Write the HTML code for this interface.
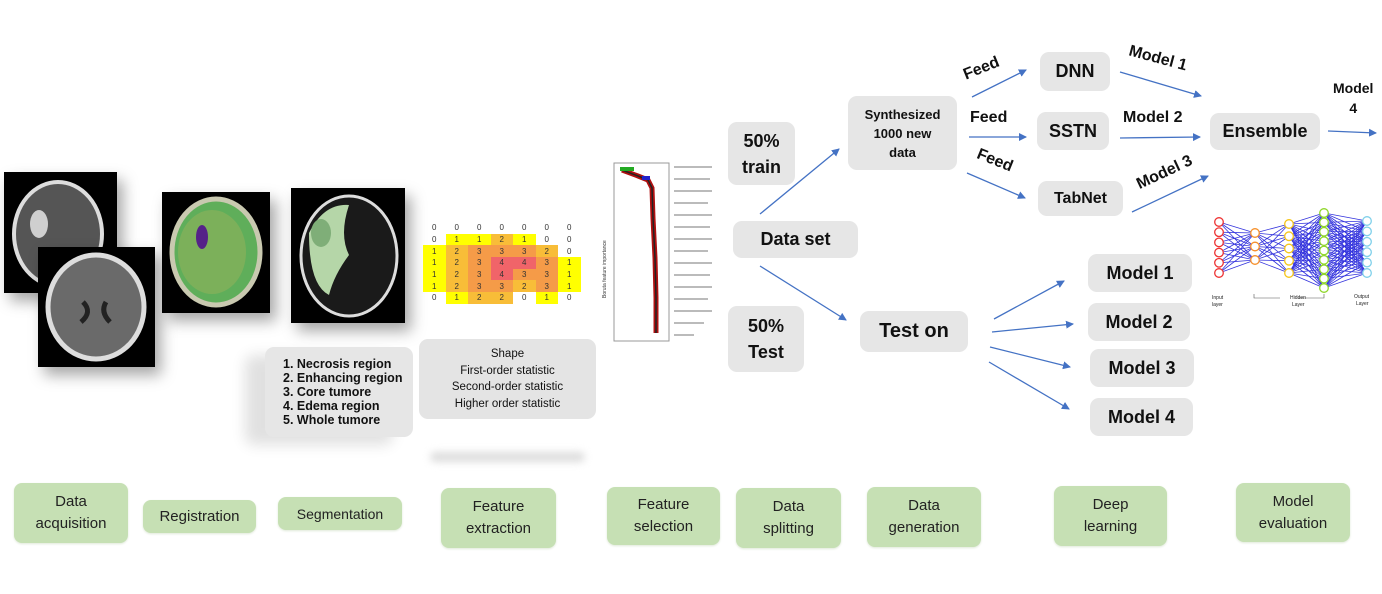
<!DOCTYPE html>
<html><head><meta charset="utf-8"><style>
body{margin:0;width:1382px;height:594px;background:#fff;position:relative;overflow:hidden;font-family:"Liberation Sans",sans-serif}
.a{position:absolute}
.g{position:absolute;background:#e6e6e6;border-radius:9px;display:flex;align-items:center;justify-content:center;text-align:center;font-weight:bold;color:#111}
.gr{position:absolute;background:#c6e0b4;border-radius:8px;display:flex;align-items:center;justify-content:center;text-align:center;color:#222;font-size:15px;line-height:22px;box-shadow:0 1px 2px #dfe8d8}
.lb{position:absolute;font-weight:bold;font-size:16px;color:#111;white-space:nowrap}
.img{position:absolute;background:#000;box-shadow:6px 8px 14px rgba(0,0,0,.35)}
table{border-collapse:collapse;position:absolute;left:423px;top:222px}
td{width:22.5px;height:11.7px;padding:0;font-size:8px;text-align:center;color:#333}
.Y{background:#ffff00}.O{background:#f8bd38}.T{background:#f59b48}.R{background:#f06469}
</style></head><body>

<div class="img" style="left:4px;top:172px;width:113px;height:121px">
<svg width="113" height="121"><ellipse cx="54" cy="62" rx="44" ry="52" fill="#555" stroke="#ddd" stroke-width="4"/><ellipse cx="35" cy="52" rx="9" ry="14" fill="#eee" opacity=".8"/></svg></div>
<div class="img" style="left:38px;top:247px;width:117px;height:120px">
<svg width="117" height="120"><ellipse cx="58" cy="60" rx="48" ry="52" fill="#6a6a6a" stroke="#ddd" stroke-width="5"/><path d="M45 55 q10 10 -2 20 M68 55 q-6 10 4 20" stroke="#222" stroke-width="5" fill="none"/></svg></div>
<div class="img" style="left:162px;top:192px;width:108px;height:121px">
<svg width="108" height="121"><ellipse cx="54" cy="60" rx="44" ry="53" fill="#5fae5a" stroke="#c9c9b0" stroke-width="5"/><ellipse cx="50" cy="60" rx="34" ry="42" fill="#8fb05a" opacity=".6"/><ellipse cx="40" cy="45" rx="6" ry="12" fill="#552288"/></svg></div>
<div class="img" style="left:291px;top:188px;width:114px;height:135px">
<svg width="114" height="135"><ellipse cx="58" cy="68" rx="48" ry="60" fill="#1a1a1a" stroke="#ddd" stroke-width="3"/><path d="M18 45 q15-30 40-28 q-10 30 0 50 q-15 20 -20 40 q-20-10-20-62z" fill="#b5d6a8"/><ellipse cx="30" cy="45" rx="10" ry="14" fill="#7fae78"/></svg></div>

<table>
<tr><td>0</td><td>0</td><td>0</td><td>0</td><td>0</td><td>0</td><td>0</td></tr>
<tr><td>0</td><td class="Y">1</td><td class="Y">1</td><td class="O">2</td><td class="Y">1</td><td>0</td><td>0</td></tr>
<tr><td class="Y">1</td><td class="O">2</td><td class="T">3</td><td class="T">3</td><td class="T">3</td><td class="O">2</td><td>0</td></tr>
<tr><td class="Y">1</td><td class="O">2</td><td class="T">3</td><td class="R">4</td><td class="R">4</td><td class="T">3</td><td class="Y">1</td></tr>
<tr><td class="Y">1</td><td class="O">2</td><td class="T">3</td><td class="R">4</td><td class="T">3</td><td class="T">3</td><td class="Y">1</td></tr>
<tr><td class="Y">1</td><td class="O">2</td><td class="T">3</td><td class="T">3</td><td class="O">2</td><td class="T">3</td><td class="Y">1</td></tr>
<tr><td>0</td><td class="Y">1</td><td class="O">2</td><td class="O">2</td><td>0</td><td class="Y">1</td><td>0</td></tr>
</table>

<svg class="a" style="left:598px;top:158px" width="125" height="215">
<rect x="16" y="5" width="55" height="178" fill="none" stroke="#999"/>
<path d="M24 12 L40 18 L50 22 L54 30 L55 60 L57 100 L58 140 L58 175" stroke="#b01010" stroke-width="5" fill="none"/>
<path d="M24 12 L40 18 L50 22 L54 30 L55 60 L57 100 L58 140 L58 175" stroke="#222" stroke-width="1.5" fill="none"/>
<rect x="22" y="9" width="14" height="4" fill="#2a2"/><rect x="44" y="18" width="8" height="4" fill="#22c"/>
<g fill="#bbb"><rect x="76" y="8" width="38" height="2"/><rect x="76" y="20" width="36" height="2"/><rect x="76" y="32" width="38" height="2"/><rect x="76" y="44" width="34" height="2"/><rect x="76" y="56" width="38" height="2"/><rect x="76" y="68" width="36" height="2"/><rect x="76" y="80" width="38" height="2"/><rect x="76" y="92" width="34" height="2"/><rect x="76" y="104" width="38" height="2"/><rect x="76" y="116" width="36" height="2"/><rect x="76" y="128" width="38" height="2"/><rect x="76" y="140" width="34" height="2"/><rect x="76" y="152" width="38" height="2"/><rect x="76" y="164" width="30" height="2"/><rect x="76" y="176" width="20" height="2"/></g>
<text x="8" y="140" font-size="5" transform="rotate(-90 8 140)" fill="#333">Boruta feature importance</text>
</svg>

<div class="g" style="left:265px;top:347px;width:148px;height:90px;font-size:12.5px;line-height:14px;justify-content:flex-start;padding-left:18px;box-sizing:border-box;text-align:left;box-shadow:-20px 8px 14px rgba(0,0,0,.12)">1. Necrosis region<br>2. Enhancing region<br>3. Core tumore<br>4. Edema region<br>5. Whole tumore</div>
<div class="g" style="left:419px;top:339px;width:177px;height:80px;font-size:11.5px;line-height:16.5px;font-weight:normal;background:#e4e4e4">Shape<br>First-order statistic<br>Second-order statistic<br>Higher order statistic</div>
<div class="a" style="left:430px;top:452px;width:155px;height:10px;background:#ddd;border-radius:5px;filter:blur(4px)"></div>

<div class="g" style="left:728px;top:122px;width:67px;height:63px;font-size:18px;line-height:26px">50%<br>train</div>
<div class="g" style="left:733px;top:221px;width:125px;height:37px;font-size:18px">Data set</div>
<div class="g" style="left:728px;top:306px;width:76px;height:66px;font-size:18px;line-height:26px">50%<br>Test</div>
<div class="g" style="left:860px;top:311px;width:108px;height:41px;font-size:20px">Test on</div>
<div class="g" style="left:848px;top:96px;width:109px;height:74px;font-size:13px;line-height:19px">Synthesized<br>1000 new<br>data</div>
<div class="g" style="left:1040px;top:52px;width:70px;height:39px;font-size:18px">DNN</div>
<div class="g" style="left:1037px;top:112px;width:72px;height:38px;font-size:18px">SSTN</div>
<div class="g" style="left:1038px;top:181px;width:85px;height:35px;font-size:16px">TabNet</div>
<div class="g" style="left:1210px;top:113px;width:110px;height:37px;font-size:18px">Ensemble</div>
<div class="g" style="left:1088px;top:254px;width:104px;height:38px;font-size:18px">Model 1</div>
<div class="g" style="left:1088px;top:303px;width:102px;height:38px;font-size:18px">Model 2</div>
<div class="g" style="left:1090px;top:349px;width:104px;height:38px;font-size:18px">Model 3</div>
<div class="g" style="left:1090px;top:398px;width:103px;height:38px;font-size:18px">Model 4</div>

<div class="lb" style="left:963px;top:60px;transform:rotate(-22deg)">Feed</div>
<div class="lb" style="left:970px;top:109px">Feed</div>
<div class="lb" style="left:976px;top:152px;transform:rotate(22deg)">Feed</div>
<div class="lb" style="left:1128px;top:50px;transform:rotate(15deg)">Model 1</div>
<div class="lb" style="left:1123px;top:109px">Model 2</div>
<div class="lb" style="left:1135px;top:164px;transform:rotate(-25deg)">Model 3</div>
<div class="lb" style="left:1333px;top:78px;font-size:14px;text-align:center;line-height:20px">Model<br>4</div>

<svg class="a" style="left:0;top:0" width="1382" height="594" id="net">
<defs><marker id="m" markerWidth="8" markerHeight="8" refX="7" refY="4" orient="auto" markerUnits="userSpaceOnUse"><path d="M0,0 L8,4 L0,8z" fill="#4472c4"/></marker></defs>
<g stroke="#4472c4" stroke-width="1.3" marker-end="url(#m)">
<line x1="760" y1="214" x2="839" y2="149"/>
<line x1="760" y1="266" x2="846" y2="320"/>
<line x1="972" y1="97" x2="1026" y2="70"/>
<line x1="969" y1="137" x2="1026" y2="137"/>
<line x1="967" y1="173" x2="1025" y2="198"/>
<line x1="1120" y1="72" x2="1201" y2="96"/>
<line x1="1120" y1="138" x2="1200" y2="137"/>
<line x1="1132" y1="212" x2="1208" y2="176"/>
<line x1="1328" y1="131" x2="1376" y2="133"/>
<line x1="994" y1="319" x2="1064" y2="281"/>
<line x1="992" y1="332" x2="1073" y2="324"/>
<line x1="990" y1="347" x2="1070" y2="367"/>
<line x1="989" y1="362" x2="1069" y2="409"/>
</g>
<g font-size="5" font-family="Liberation Sans" fill="#222">
<text x="1212" y="299">Input</text><text x="1212" y="306">layer</text>
<text x="1290" y="299">Hidden</text><text x="1292" y="306">Layer</text>
<text x="1354" y="298">Output</text><text x="1356" y="305">Layer</text>
</g>
<path d="M1254 294 v4 h26 M1324 294 v4 h-26" stroke="#555" stroke-width=".6" fill="none"/>
</svg>
<script>
(function(){
var s=document.getElementById('net'),ns='http://www.w3.org/2000/svg';
var L=[[1219,222,273,6,'#e33'],[1255,233,260,3,'#f6902a'],[1289,224,273,5,'#f5c518'],[1324,213,288,9,'#8fd62a'],[1367,221,273,6,'#7fd0ea']];
var P=L.map(function(l){var p=[];for(var k=0;k<l[3];k++)p.push([l[0],l[1]+(l[2]-l[1])*k/(l[3]-1)]);return p;});
for(var i=0;i<P.length-1;i++)P[i].forEach(function(a){P[i+1].forEach(function(b){var e=document.createElementNS(ns,'line');e.setAttribute('x1',a[0]);e.setAttribute('y1',a[1]);e.setAttribute('x2',b[0]);e.setAttribute('y2',b[1]);e.setAttribute('stroke','#3333dd');e.setAttribute('stroke-width','.8');s.appendChild(e);});});
P.forEach(function(p,i){p.forEach(function(a){var c=document.createElementNS(ns,'circle');c.setAttribute('cx',a[0]);c.setAttribute('cy',a[1]);c.setAttribute('r',4.3);c.setAttribute('fill','#fff');c.setAttribute('stroke',L[i][4]);c.setAttribute('stroke-width','1.3');s.appendChild(c);});});
})();
</script>

<div class="gr" style="left:14px;top:483px;width:114px;height:60px">Data<br>acquisition</div>
<div class="gr" style="left:143px;top:500px;width:113px;height:33px">Registration</div>
<div class="gr" style="left:278px;top:497px;width:124px;height:33px;font-size:14px">Segmentation</div>
<div class="gr" style="left:441px;top:488px;width:115px;height:60px">Feature<br>extraction</div>
<div class="gr" style="left:607px;top:487px;width:113px;height:58px">Feature<br>selection</div>
<div class="gr" style="left:736px;top:488px;width:105px;height:60px">Data<br>splitting</div>
<div class="gr" style="left:867px;top:487px;width:114px;height:60px">Data<br>generation</div>
<div class="gr" style="left:1054px;top:486px;width:113px;height:60px">Deep<br>learning</div>
<div class="gr" style="left:1236px;top:483px;width:114px;height:59px">Model<br>evaluation</div>
</body></html>
